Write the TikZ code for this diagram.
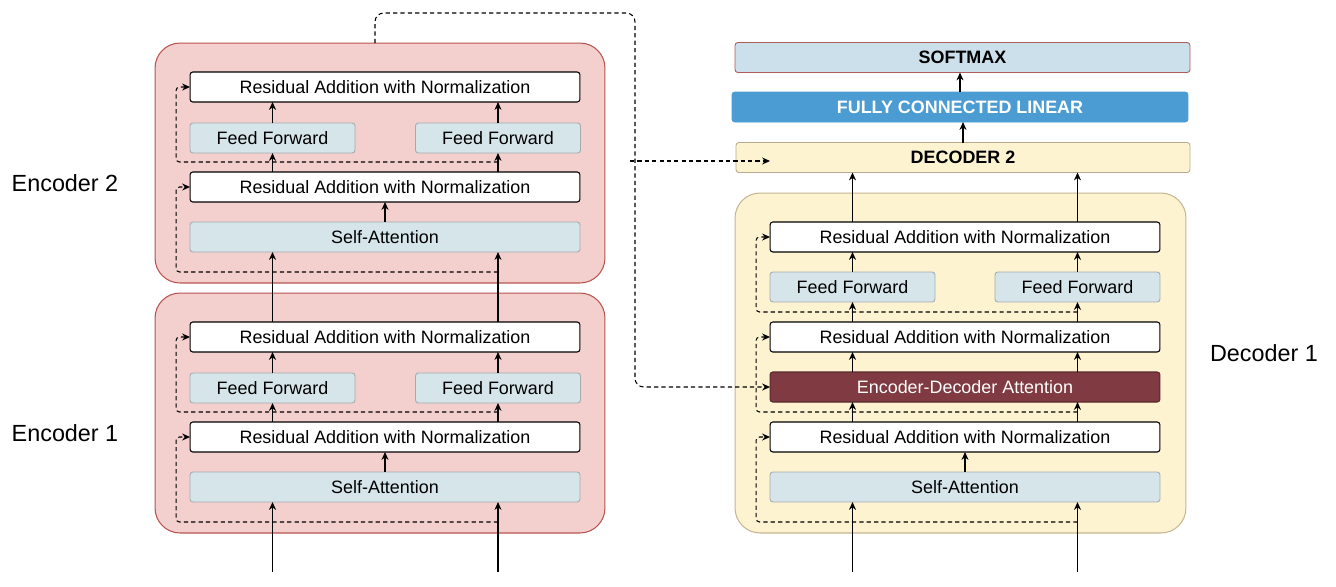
\documentclass[tikz,border=0pt]{standalone}
\usepackage{fontspec}
\setmainfont{Liberation Sans}
\usetikzlibrary{calc,arrows.meta}

\definecolor{encfill}{HTML}{F3CFCD}
\definecolor{encdraw}{HTML}{B85450}
\definecolor{decfill}{HTML}{FDF3D1}
\definecolor{decdraw}{HTML}{C6B693}
\definecolor{bluefill}{HTML}{D6E5EA}
\definecolor{bluedraw}{HTML}{A3ABAE}
\definecolor{smfill}{HTML}{CCE0EB}
\definecolor{fclfill}{HTML}{4B9CD3}
\definecolor{edafill}{HTML}{7F3B41}

\begin{document}
\begin{tikzpicture}[x=0.02cm,y=-0.02cm,
	every node/.style={inner sep=0pt,outer sep=0pt,font=\fontsize{10.2}{12}\selectfont},
	encouter/.style={draw=encdraw,fill=encfill,rounded corners=0.5cm,line width=0.6pt,minimum width=9cm,minimum height=4.8cm},
	decouter/.style={draw=decdraw,fill=decfill,rounded corners=0.5cm,line width=0.6pt,minimum width=9.02cm,minimum height=6.8cm},
	resbox/.style={draw=black,fill=white,rounded corners=1.6pt,line width=0.6pt,minimum width=7.8cm,minimum height=0.6cm},
	ffbox/.style={draw=bluedraw,fill=bluefill,rounded corners=1.6pt,line width=0.5pt,minimum width=3.3cm,minimum height=0.6cm},
	sabox/.style={ffbox,minimum width=7.8cm},
	topbox/.style={rounded corners=1.6pt,line width=0.5pt,minimum height=0.6cm,font=\bfseries\fontsize{10.2}{12}\selectfont},
	sidelabel/.style={font=\fontsize{13.3}{16}\selectfont},
	arr/.style={->,>={Stealth[length=4.5pt,width=4pt]},line width=0.6pt},
	skip/.style={->,>={Stealth[length=4.5pt,width=4pt]},line width=0.6pt,dash pattern=on 2.4pt off 1.8pt,rounded corners=2pt}]
	\useasboundingbox (0,0) rectangle (1336,586);

	% encoders
	\foreach \n/\dy in {2/0,1/250}{
		\node [encouter] (enc\n) at (380,163+\dy) {};
		\node [resbox] (e\n rt) at (385,87+\dy) {Residual Addition with Normalization};
		\node [ffbox] (e\n fa) at (272.5,138+\dy) {Feed Forward};
		\node [ffbox] (e\n fb) at (498,138+\dy) {Feed Forward};
		\node [resbox] (e\n rb) at (385,187+\dy) {Residual Addition with Normalization};
		\node [sabox] (e\n sa) at (385,237+\dy) {Self-Attention};
		\draw [arr] (e\n sa) -- (e\n rb);
		\draw [arr] (e\n fa |- e\n rb.north) -- (e\n fa);
		\draw [arr] (e\n fb |- e\n rb.north) -- (e\n fb);
		\draw [arr] (e\n fa) -- (e\n fa |- e\n rt.south);
		\draw [arr] (e\n fb) -- (e\n fb |- e\n rt.south);
		\draw [skip] ($(e\n sa.south -| e\n fb)+(0,20)$) -| ($(e\n rb.west)+(-14,0)$) -- (e\n rb.west);
		\draw [skip] ($(e\n rb.north -| e\n fb)+(0,-10)$) -| ($(e\n rt.west)+(-14,0)$) -- (e\n rt.west);
	}
	\node [sidelabel] (lenc2) at (65,183) {Encoder 2};
	\node [sidelabel] (lenc1) at (65,433) {Encoder 1};

	\coordinate (ein1) at (272.5,572);
	\coordinate (ein2) at (498,572);
	\draw [arr] (ein1) -- (e1sa.south -| ein1);
	\draw [arr] (ein2) -- (e1sa.south -| ein2);
	\draw [arr] (e1rt.north -| e1fa) -- (e2sa.south -| e1fa);
	\draw [arr] (e1rt.north -| e1fb) -- (e2sa.south -| e1fb);

	% decoder 1
	\node [decouter] (dec1) at (960.5,363) {};
	\node [resbox] (d1rt) at (965,237) {Residual Addition with Normalization};
	\node [ffbox] (d1fa) at (852.5,287) {Feed Forward};
	\node [ffbox] (d1fb) at (1077.5,287) {Feed Forward};
	\node [resbox] (d1rm) at (965,337) {Residual Addition with Normalization};
	\node [resbox, draw=edafill!70!black, fill=edafill, text=white] (d1eda) at (965,387) {Encoder-Decoder Attention};
	\node [resbox] (d1rb) at (965,437) {Residual Addition with Normalization};
	\node [sabox] (d1sa) at (965,487) {Self-Attention};
	\node [sidelabel] (ldec1) at (1264,353) {Decoder 1};

	\coordinate (din1) at (852.5,572);
	\coordinate (din2) at (1077.5,572);
	\draw [arr] (din1) -- (d1sa.south -| din1);
	\draw [arr] (din2) -- (d1sa.south -| din2);
	\draw [arr] (d1sa) -- (d1rb);
	\draw [arr] (d1rb.north -| d1fa) -- (d1eda.south -| d1fa);
	\draw [arr] (d1rb.north -| d1fb) -- (d1eda.south -| d1fb);
	\draw [arr] (d1eda.north -| d1fa) -- (d1rm.south -| d1fa);
	\draw [arr] (d1eda.north -| d1fb) -- (d1rm.south -| d1fb);
	\draw [arr] (d1fa |- d1rm.north) -- (d1fa);
	\draw [arr] (d1fb |- d1rm.north) -- (d1fb);
	\draw [arr] (d1fa) -- (d1fa |- d1rt.south);
	\draw [arr] (d1fb) -- (d1fb |- d1rt.south);
	\draw [skip] ($(d1sa.south -| d1fb)+(0,20)$) -| ($(d1rb.west)+(-14,0)$) -- (d1rb.west);
	\draw [skip] ($(d1rb.north -| d1fb)+(0,-10)$) -| ($(d1rm.west)+(-14,0)$) -- (d1rm.west);
	\draw [skip] ($(d1rm.north -| d1fb)+(0,-10)$) -| ($(d1rt.west)+(-14,0)$) -- (d1rt.west);

	% decoder 2 and output
	\node [topbox, draw=decdraw!80!gray, fill=decfill, minimum width=9.08cm] (dec2) at (963,157.5) {DECODER 2};
	\node [topbox, draw=fclfill, fill=fclfill, text=white, minimum width=9.12cm] (fcl) at (960,107) {FULLY CONNECTED LINEAR};
	\node [topbox, draw=encdraw!80!gray, fill=smfill, minimum width=9.1cm] (softmax) at (962.5,57.5) {SOFTMAX};
	\draw [arr] (d1rt.north -| d1fa) -- (dec2.south -| d1fa);
	\draw [arr] (d1rt.north -| d1fb) -- (dec2.south -| d1fb);
	\draw [arr] (dec2.north) -- (dec2.north |- fcl.south);
	\draw [arr] (fcl.north) -- (fcl.north |- softmax.south);

	% encoder output
	\coordinate (bendtop) at (635,13);
	\coordinate (encout) at (630,161);
	\draw [skip, rounded corners=5pt] ($(enc2.north)+(-5,0)$) |- (bendtop) |- (d1eda.west);
	\draw [skip] (encout) -- (encout -| d1rt.west);
\end{tikzpicture}
\end{document}
